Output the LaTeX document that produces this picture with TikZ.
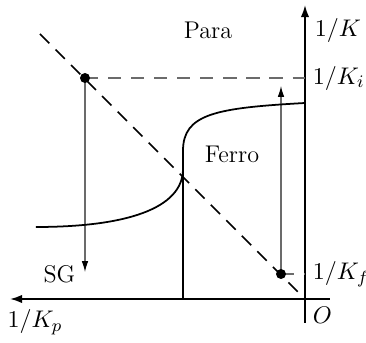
\documentclass[tikz,border=0pt]{standalone}
\usepackage{amsmath,amssymb}
\usepackage{tikz}
\usetikzlibrary{calc,arrows.meta}
\definecolor{midgray}{rgb}{0.42,0.42,0.42}

\begin{document}
\begin{tikzpicture}[x=0.016cm,y=0.016cm,font=\fontsize{11}{13}\selectfont]
    \useasboundingbox (-305,-44) rectangle (61,299);
    \def\yi{221}
    \def\yf{25}
    \def\xb{-122}
    \coordinate (O) at (0,0);
    \coordinate (xend) at (-295,0);
    \coordinate (yend) at (0,294);
    \coordinate (di) at (-220,\yi);
    \coordinate (df) at (-24,\yf);
    \coordinate (ai) at (0,\yi);
    \coordinate (af) at (0,\yf);
    \coordinate (diag) at (-265,265);
    \draw[-{Latex[length=5.5pt,width=3.8pt]}, thick] (25,0) -- (xend);
    \draw[-{Latex[length=5.5pt,width=3.8pt]}, thick] (0,-24) -- (yend);
    \draw[thick, dash pattern=on 6pt off 4pt] (diag) -- (O);
    \draw[midgray, line width=0.5pt, dash pattern=on 6pt off 4.5pt] (di) -- (ai);
    \draw[midgray, line width=0.5pt, dash pattern=on 6pt off 4.5pt] (df) -- (af);
    \draw[midgray, line width=0.5pt, -{Latex[black,length=5pt,width=3pt]}] (di) -- (-220,\yf+2);
    \draw[midgray, line width=0.5pt, -{Latex[black,length=5pt,width=3pt]}] (df) -- (-24,\yi-8);
    \draw[thick] (\xb,0) -- (\xb,130);
    \draw[thick] (-269,72) .. controls (-180,72) and (\xb,90) .. (\xb,130)
      -- (\xb,148) .. controls (\xb,185) and (-90,191) .. (0,196);
    \fill (di) circle (5);
    \fill (df) circle (5);
    \node[right] (lk) at (2,269) {$1/K$};
    \node[right] (lki) at (ai) {$1/K_i$};
    \node[right] (lkf) at (af) {$1/K_f$};
    \node[below right] (lo) at (O) {$O$};
    \node (lkp) at (-270,-23) {$1/K_p$};
    \node[left] (sg) at (-222,\yf) {SG};
    \node (para) at (-97,269) {Para};
    \node (ferro) at (-73,145) {Ferro};
  \end{tikzpicture}
\end{document}
